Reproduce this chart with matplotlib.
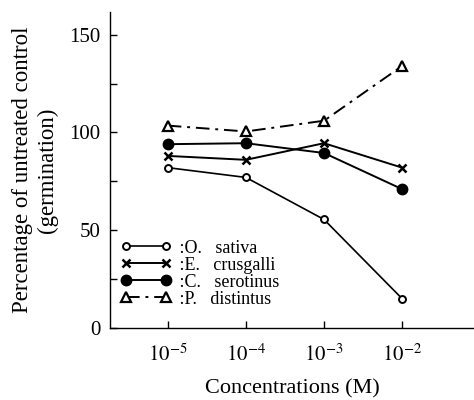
import matplotlib
matplotlib.use("Agg")
import matplotlib.pyplot as plt
from matplotlib.ticker import FixedLocator, NullLocator

# Data
concentrations = [1e-5, 1e-4, 1e-3, 1e-2]
x_labels = ["$10^{-5}$", "$10^{-4}$", "$10^{-3}$", "$10^{-2}$"]
o_sativa = [82, 77, 55.5, 15]
e_crusgalli = [88, 86, 94.5, 82]
c_serotinus = [94, 94.5, 89.5, 71]
p_distintus = [103.5, 100.5, 106, 134]
y_ticks = [0, 50, 100, 150]
y_minor = [25, 75, 125]

plt.rcParams["font.family"] = ["Liberation Serif", "DejaVu Serif"]
plt.rcParams["mathtext.fontset"] = "stix"

fig = plt.figure(figsize=(4.74, 4.0), dpi=100)
ax = fig.add_axes([0.232, 0.18, 0.768, 0.79])

ax.plot(concentrations, o_sativa, color="black", lw=1.2, marker="o", ms=5,
        mfc="white", mec="black", mew=1.4, label=" :O.   sativa")
ax.plot(concentrations, e_crusgalli, color="black", lw=1.4, marker="x", ms=6,
        mew=1.8, label=" :E.   crusgalli")
ax.plot(concentrations, c_serotinus, color="black", lw=1.4, marker="o", ms=7.5,
        label=" :C.   serotinus")
ax.plot(concentrations, p_distintus, color="black", lw=1.4, ls=(0, (7, 3, 1.5, 3)),
        marker="^", ms=7, mfc="white", mec="black", mew=1.6, label=" :P.   distintus")

ax.set_xscale("log")
ax.set_xlim(10 ** -5.74, 10 ** -1.08)
ax.set_ylim(0, 161.6)
ax.xaxis.set_major_locator(FixedLocator(concentrations))
ax.xaxis.set_minor_locator(NullLocator())
ax.set_xticklabels(x_labels)
ax.set_yticks(y_ticks)
ax.set_yticks(y_minor, minor=True)

for s in ["top", "right"]:
    ax.spines[s].set_visible(False)
for s in ["left", "bottom"]:
    ax.spines[s].set_linewidth(1.0)

ax.tick_params(axis="both", which="both", direction="in", length=5, width=1.0)
ax.tick_params(axis="x", labelsize=15, pad=12)
ax.tick_params(axis="y", labelsize=15, pad=7)

ax.set_xlabel("Concentrations (M)", fontsize=16, labelpad=9)
ax.set_ylabel("Percentage of untreated control\n(germination)", fontsize=16.5,
              labelpad=8, linespacing=1.2)

ax.legend(loc="upper left", bbox_to_anchor=(0.03, 0.28), frameon=False,
          fontsize=13, numpoints=2, handlelength=2.8, handletextpad=0.2,
          labelspacing=0.0, borderpad=0, borderaxespad=0)

fig.savefig("out.png", dpi=100)
